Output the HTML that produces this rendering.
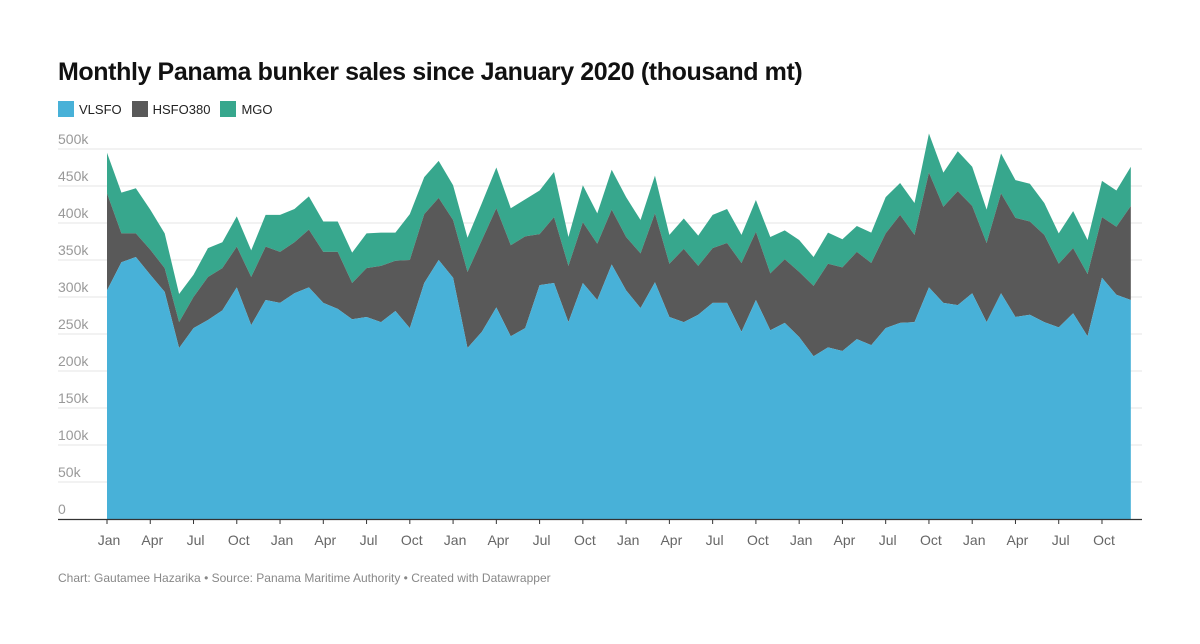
<!DOCTYPE html>
<html><head><meta charset="utf-8"><style>
body{margin:0;background:#fff;font-family:"Liberation Sans",sans-serif;}
#wrap{position:relative;width:1200px;height:644px;overflow:hidden;}
#title{position:absolute;left:58px;top:58px;font-size:25px;font-weight:bold;color:#111;letter-spacing:-0.4px;}
#legend{position:absolute;left:58px;top:101px;font-size:13px;color:#222;display:flex;gap:10px;}
.li{display:flex;align-items:center;gap:5px;}
.sw{width:16px;height:16px;display:inline-block;}
#foot{position:absolute;left:58px;top:571px;font-size:12px;color:#888;}
</style></head><body>
<div id="wrap">
<div id="title">Monthly Panama bunker sales since January 2020 (thousand mt)</div>
<div id="legend">
<span class="li"><span class="sw" style="background:#48b1d8"></span>VLSFO</span>
<span class="li"><span class="sw" style="background:#595959"></span>HSFO380</span>
<span class="li"><span class="sw" style="background:#37a78d"></span>MGO</span>
</div>
<svg id="svg" width="1200" height="644" style="position:absolute;left:0;top:0"></svg>
<div id="foot">Chart: Gautamee Hazarika • Source: Panama Maritime Authority • Created with Datawrapper</div>
</div>
<script>
const vlsfo=[309,347,354,330,307,231,258,269,282,313,262,296,292,305,313,292,284,270,273,266,281,258,319,350,326,231,253,286,247,258,316,319,266,319,296,344,309,285,320,273,266,276,292,292,253,296,255,265,246,220,232,227,243,235,258,265,266,313,292,289,305,266,305,273,276,266,259,278,247,326,303,296];
const hsfo=[131,39,32,34,32,35,42,58,57,55,65,72,69,69,78,69,77,49,66,76,68,92,93,84,78,103,124,134,123,124,69,89,76,82,76,74,72,74,93,72,99,66,74,81,93,92,77,86,88,95,113,113,118,111,128,146,118,155,130,154,118,107,135,134,126,118,86,88,84,82,92,127];
const mgo=[55,55,61,54,47,38,30,39,35,41,36,43,50,45,45,41,41,41,47,45,38,62,50,50,47,46,50,55,50,50,59,61,39,50,41,54,54,45,51,39,41,41,45,46,38,43,49,39,43,39,42,38,35,41,49,43,43,53,46,54,53,45,54,51,51,43,41,50,46,49,49,53];
const yTicks=[0,50,100,150,200,250,300,350,400,450,500];
const monthNames=["Jan","Apr","Jul","Oct"];
const NS="http://www.w3.org/2000/svg";
const svg=document.getElementById('svg');
const x0=107,dx=14.42,y0=519,k=0.74;
const X=i=>x0+dx*i, Y=v=>y0-v*k;
function mk(t,a){const e=document.createElementNS(NS,t);for(const n in a)e.setAttribute(n,a[n]);svg.appendChild(e);return e;}
yTicks.forEach(t=>{
  if(t>0){const g=mk('line',{x1:58,x2:1142,y1:Y(t),y2:Y(t),stroke:'#e6e6e6','stroke-width':1});
  
  }
  const tx=mk('text',{x:58,y:Y(t)-5,'font-size':14,fill:'#999','font-family':'Liberation Sans'});
  tx.textContent=t===0?'0':t+'k';
  
  
});
const n=vlsfo.length;
const c1=[],c2=[],c3=[];
for(let i=0;i<n;i++){c1.push(vlsfo[i]);c2.push(vlsfo[i]+hsfo[i]);c3.push(vlsfo[i]+hsfo[i]+mgo[i]);}
function area(top,bot,col,name){
  let d='M'+X(0)+','+Y(top[0]);
  for(let i=1;i<n;i++)d+='L'+X(i)+','+Y(top[i]);
  for(let i=n-1;i>=0;i--)d+='L'+X(i)+','+Y(bot?bot[i]:0);
  const p=mk('path',{d:d+'Z',fill:col});
  
  
}
area(c3,c2,'#37a78d','area-mgo');
area(c2,c1,'#595959','area-hsfo380');
area(c1,null,'#48b1d8','area-vlsfo');
const ax=mk('line',{x1:58,x2:1142,y1:y0+0.5,y2:y0+0.5,stroke:'#333','stroke-width':1.3});


for(let i=0;i<n;i+=3){
  const tk=mk('line',{x1:X(i),x2:X(i),y1:y0,y2:y0+5,stroke:'#333'});
  
  
  const t=mk('text',{x:X(i)+2,y:545,'font-size':14,fill:'#666','text-anchor':'middle','font-family':'Liberation Sans'});
  t.textContent=monthNames[(i/3)%4];
  
  
}
</script>
</body></html>
